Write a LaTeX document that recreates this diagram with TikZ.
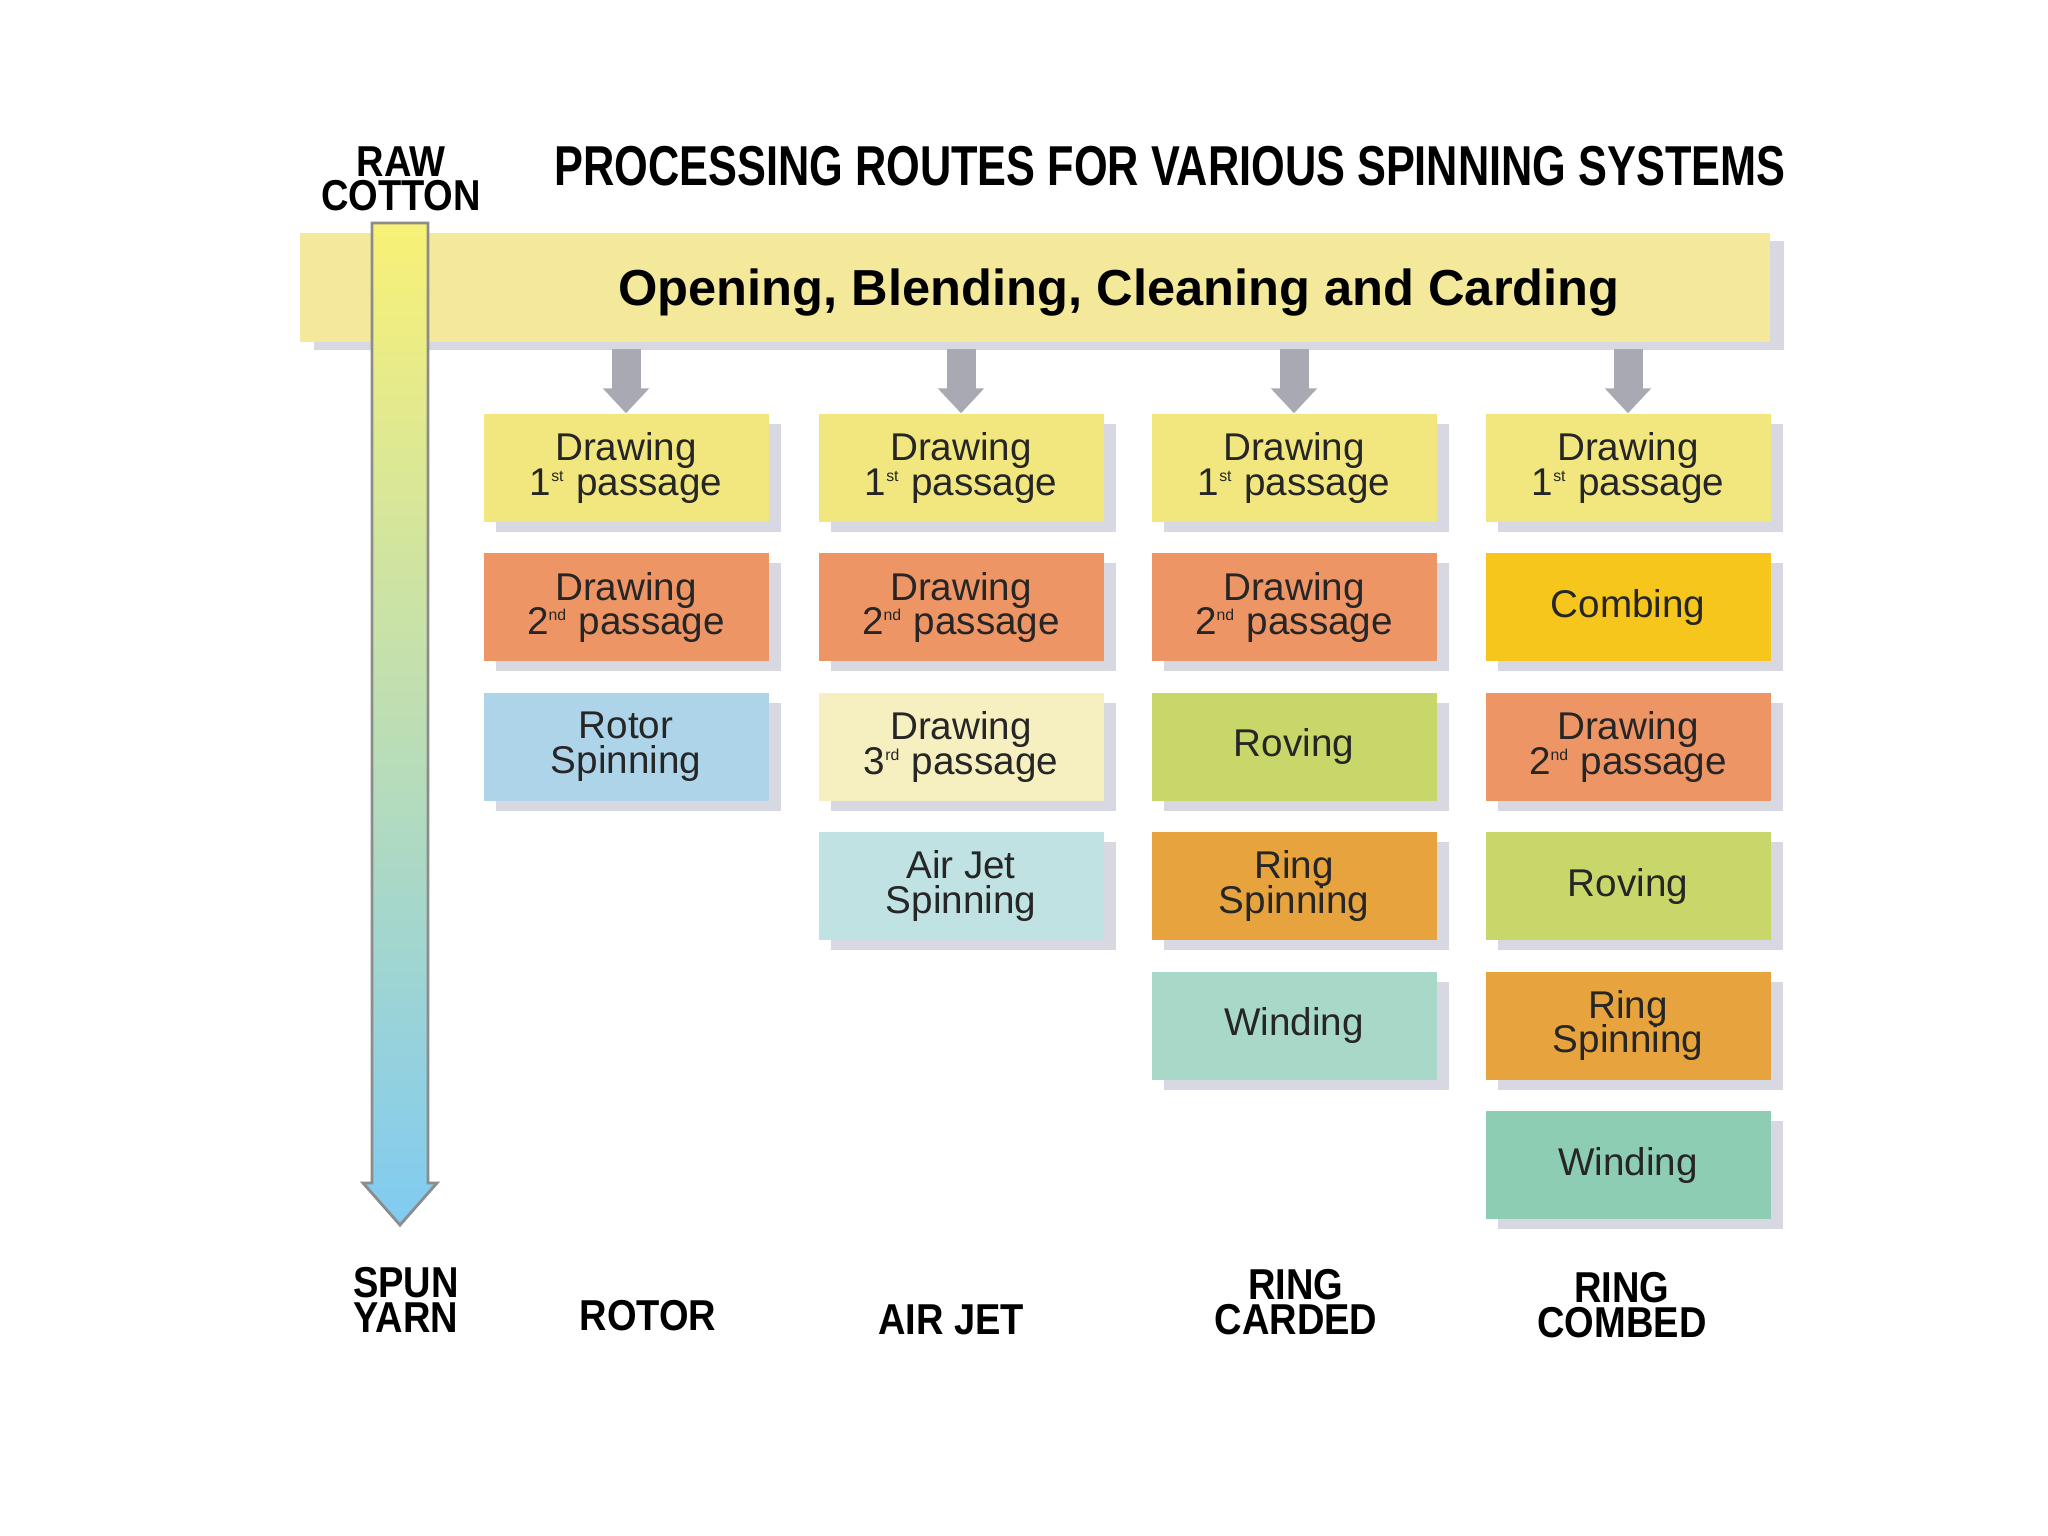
\documentclass[tikz,border=0pt]{standalone}
\usepackage{fontspec}
\setmainfont{Liberation Sans}
\newfontfamily\titlefont{Liberation Sans}[FakeStretch=0.77]
\newfontfamily\tagfont{Liberation Sans}[FakeStretch=0.88]
\usetikzlibrary{arrows.meta,positioning,shadows}
\definecolor{bandyellow}{HTML}{F4E99B}
\definecolor{shadowgray}{HTML}{D8D8E2}
\definecolor{feedgray}{HTML}{A9A9B3}
\definecolor{firstpass}{HTML}{F1E77E}
\definecolor{secondpass}{HTML}{EE9566}
\definecolor{thirdpass}{HTML}{F6EFBF}
\definecolor{rotorblue}{HTML}{AED4EA}
\definecolor{airjetblue}{HTML}{C0E2E3}
\definecolor{rovinggreen}{HTML}{C9D76A}
\definecolor{ringorange}{HTML}{E7A33E}
\definecolor{combgold}{HTML}{F6C61C}
\definecolor{windmint}{HTML}{A8D8C8}
\definecolor{windgreen}{HTML}{8DCDB3}
\definecolor{yarnyellow}{HTML}{F9F176}
\definecolor{yarnblue}{HTML}{80CBF2}
\newcommand{\passno}[2]{#1\textsuperscript{\fontsize{4.5}{5}\selectfont #2}}
\newcommand{\tightlines}{\lineskiplimit=-4pt\relax}
\tikzset{
  stage/.style = {minimum width=28.5mm, minimum height=10.8mm, inner sep=1pt, align=center,
                  text=black!85, font=\fontsize{11}{9.8}\selectfont\tightlines,
                  drop shadow={shadow xshift=1.2mm, shadow yshift=-1mm, fill=shadowgray, opacity=1}},
  band/.style  = {fill=bandyellow, minimum width=147mm, minimum height=10.9mm, inner sep=0pt,
                  text depth=0pt, font=\bfseries\fontsize{14.4}{16}\selectfont,
                  drop shadow={shadow xshift=1.4mm, shadow yshift=-0.8mm, fill=shadowgray, opacity=1}},
  feed/.style  = {line width=2.9mm, draw=feedgray, -{Triangle[length=2.5mm, width=4.5mm]}},
  tag/.style   = {font=\tagfont\bfseries\fontsize{12.3}{9.8}\selectfont, align=center},
  title/.style = {font=\titlefont\bfseries\fontsize{16}{18}\selectfont},
}
\begin{document}
\begin{tikzpicture}[x=1cm,y=1cm, node distance=3mm]
  \fill[white] (0,0) rectangle (20.48,-15.36);
  \useasboundingbox (0,0) rectangle (20.48,-15.36);

  \node[title, anchor=west] (title) at (5.42,-1.66) {PROCESSING ROUTES FOR VARIOUS SPINNING SYSTEMS};
  \node[tag] (raw) at (4.01,-1.79) {RAW\\COTTON};
  \node[band] (band) at (10.35,-2.875) {\hspace*{1.68cm}Opening, Blending, Cleaning and Carding};

  % raw cotton to spun yarn
  \draw[draw=black!45, line width=0.8pt, top color=yarnyellow, bottom color=yarnblue]
    (3.72,-2.23) -- (3.72,-11.83) -- (3.63,-11.83) -- (4.00,-12.25)
    -- (4.37,-11.83) -- (4.28,-11.83) -- (4.28,-2.23) -- cycle;

  % rotor
  \node[stage, fill=firstpass] (rot1) at (6.26,-4.68) {Drawing\\\passno{1}{st} passage};
  \node[stage, fill=secondpass, below=of rot1] (rot2) {Drawing\\\passno{2}{nd} passage};
  \node[stage, fill=rotorblue, below=of rot2] (rot3) {Rotor\\Spinning};

  % air jet
  \node[stage, fill=firstpass] (air1) at (9.61,-4.68) {Drawing\\\passno{1}{st} passage};
  \node[stage, fill=secondpass, below=of air1] (air2) {Drawing\\\passno{2}{nd} passage};
  \node[stage, fill=thirdpass, below=of air2] (air3) {Drawing\\\passno{3}{rd} passage};
  \node[stage, fill=airjetblue, below=of air3] (air4) {Air Jet\\Spinning};

  % ring carded
  \node[stage, fill=firstpass] (crd1) at (12.94,-4.68) {Drawing\\\passno{1}{st} passage};
  \node[stage, fill=secondpass, below=of crd1] (crd2) {Drawing\\\passno{2}{nd} passage};
  \node[stage, fill=rovinggreen, below=of crd2] (crd3) {Roving};
  \node[stage, fill=ringorange, below=of crd3] (crd4) {Ring\\Spinning};
  \node[stage, fill=windmint, below=of crd4] (crd5) {Winding};

  % ring combed
  \node[stage, fill=firstpass] (cmb1) at (16.28,-4.68) {Drawing\\\passno{1}{st} passage};
  \node[stage, fill=combgold, below=of cmb1] (cmb2) {Combing};
  \node[stage, fill=secondpass, below=of cmb2] (cmb3) {Drawing\\\passno{2}{nd} passage};
  \node[stage, fill=rovinggreen, below=of cmb3] (cmb4) {Roving};
  \node[stage, fill=ringorange, below=of cmb4] (cmb5) {Ring\\Spinning};
  \node[stage, fill=windgreen, below=of cmb5] (cmb6) {Winding};

  \foreach \c in {rot1,air1,crd1,cmb1}
    \draw[feed] ([yshift=-0.6mm]band.south -| \c.north) -- (\c.north);

  \node[tag] (spun) at (4.06,-13.00) {SPUN\\YARN};
  \node[tag] (rotor) at (6.48,-13.16) {ROTOR};
  \node[tag] (airjet) at (9.51,-13.20) {AIR JET};
  \node[tag] (carded) at (12.96,-13.02) {RING\\CARDED};
  \node[tag] (combed) at (16.22,-13.05) {RING\\COMBED};
\end{tikzpicture}
\end{document}
